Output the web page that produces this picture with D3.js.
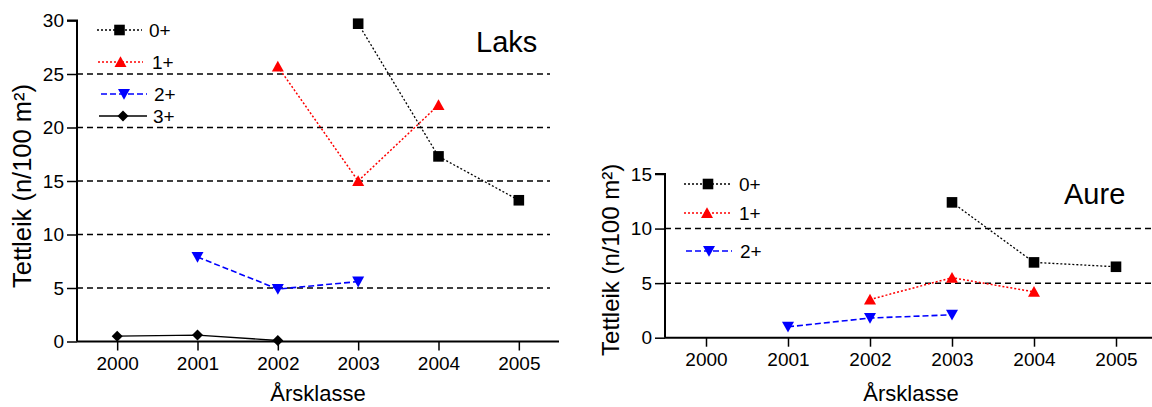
<!DOCTYPE html>
<html>
<head>
<meta charset="utf-8">
<script src="https://cdn.jsdelivr.net/npm/d3@7/dist/d3.min.js"></script>
<style>
  html, body { margin: 0; padding: 0; background: #fff; }
  svg { display: block; }
  text { font-family: "Liberation Sans", Arial, sans-serif; fill: #000; }
</style>
</head>
<body>
<svg id="chart" width="1152" height="407"></svg>
<script>
// Year classes on the x axis
const years = [2000, 2001, 2002, 2003, 2004, 2005];
const yearLabels = ["2000", "2001", "2002", "2003", "2004", "2005"];

// Laks (salmon) density per age group, n/100 m²
const laksYears0 = [2003, 2004, 2005];
const laks0 = [29.7, 17.3, 13.2];
const laksYears1 = [2002, 2003, 2004];
const laks1 = [25.7, 15.0, 22.1];
const laksYears2 = [2001, 2002, 2003];
const laks2 = [7.9, 4.9, 5.6];
const laksYears3 = [2000, 2001, 2002];
const laks3 = [0.5, 0.6, 0.1];

// Aure (trout) density per age group, n/100 m²
const aureYears0 = [2003, 2004, 2005];
const aure0 = [12.4, 6.9, 6.5];
const aureYears1 = [2002, 2003, 2004];
const aure1 = [3.5, 5.5, 4.2];
const aureYears2 = [2001, 2002, 2003];
const aure2 = [1.0, 1.8, 2.1];

// Axis ticks and labels
const laksTicks = [0, 5, 10, 15, 20, 25, 30];
const laksGrid = [5, 10, 15, 20, 25];
const aureTicks = [0, 5, 10, 15];
const aureGrid = [5, 10];
const groupLabels = ["0+", "1+", "2+", "3+"];
const yTitle = "Tettleik (n/100 m²)";
const xTitle = "Årsklasse";

// Visual style per age group
const styles = [
  { color: "#000", dash: "2,2", width: 1.3, marker: "square" },
  { color: "#ff0000", dash: "2,2", width: 1.5, marker: "triUp" },
  { color: "#0000ff", dash: "6,3", width: 1.6, marker: "triDown" },
  { color: "#000", dash: null, width: 1.4, marker: "diamond" }
];

function markerPath(type) {
  switch (type) {
    case "square": return "M-5.3,-5.3H5.3V5.3H-5.3Z";
    case "triUp": return "M0,-5.8L6,5L-6,5Z";
    case "triDown": return "M0,5.8L6,-5L-6,-5Z";
    case "diamond": return "M0,-5.5L5.5,0L0,5.5L-5.5,0Z";
  }
}

const svg = d3.select("#chart");

function drawPanel(cfg) {
  const g = svg.append("g");
  const x = d3.scaleLinear().domain([1999.5, 2005.5]).range([cfg.left, cfg.right]);
  const y = d3.scaleLinear().domain([0, cfg.ymax]).range([cfg.bottom, cfg.top]);

  // dashed reference lines
  g.selectAll(".grid").data(cfg.grid).enter().append("line")
    .attr("x1", cfg.left).attr("x2", cfg.gridEnd)
    .attr("y1", d => y(d)).attr("y2", d => y(d))
    .attr("stroke", "#000").attr("stroke-width", 1.5)
    .attr("stroke-dasharray", "6,4");

  // y axis
  const yAxis = d3.axisLeft(y).tickValues(cfg.ticks).tickSize(10).tickPadding(3)
    .tickFormat(d3.format("d"));
  const ya = g.append("g").attr("transform", `translate(${cfg.left},0)`).call(yAxis);
  ya.select(".domain").attr("stroke-width", 2).attr("d", `M-10,${y(cfg.ymax)}H0V${y(0)}`);
  ya.selectAll(".tick line").attr("stroke-width", 1.5);
  ya.selectAll("text").attr("font-size", 19).attr("font-family", "Liberation Sans, Arial, sans-serif");

  // x axis
  const xAxis = d3.axisBottom(x).tickValues(years).tickSize(9).tickPadding(6)
    .tickFormat((d, i) => yearLabels[i]);
  const xa = g.append("g").attr("transform", `translate(0,${cfg.bottom})`).call(xAxis);
  xa.select(".domain").attr("stroke-width", 2).attr("d", `M${cfg.left},0H${cfg.right}`);
  xa.selectAll(".tick line").attr("stroke-width", 1.5);
  xa.selectAll("text").attr("font-size", 19).attr("font-family", "Liberation Sans, Arial, sans-serif");

  // axis titles
  g.append("text")
    .attr("transform", `translate(${cfg.yTitleX},${(y(0) + y(cfg.ymax)) / 2 + cfg.yTitleShift}) rotate(-90)`)
    .attr("text-anchor", "middle").attr("font-size", cfg.yTitleSize).text(yTitle);
  g.append("text")
    .attr("x", (cfg.left + cfg.right) / 2).attr("y", cfg.xTitleY)
    .attr("text-anchor", "middle").attr("font-size", 22).text(xTitle);

  // species name
  g.append("text").attr("x", cfg.nameX).attr("y", cfg.nameY)
    .attr("font-size", 29).text(cfg.name);

  // series lines and markers
  const line = d3.line().x(d => x(d[0])).y(d => y(d[1]));
  cfg.series.forEach((s, i) => {
    const st = styles[i];
    const pts = s.years.map((yr, j) => [yr, s.values[j]]);
    g.append("path").datum(pts).attr("d", line)
      .attr("fill", "none").attr("stroke", st.color)
      .attr("stroke-width", st.width)
      .attr("stroke-dasharray", st.dash);
    g.selectAll(null).data(pts).enter().append("path")
      .attr("d", markerPath(st.marker))
      .attr("transform", d => `translate(${x(d[0])},${y(d[1])})`)
      .attr("fill", st.color);
  });

  // legend
  cfg.legend.forEach((L, i) => {
    const st = styles[i];
    g.append("line").attr("x1", L.x1).attr("x2", L.x2).attr("y1", L.y).attr("y2", L.y)
      .attr("stroke", st.color).attr("stroke-width", st.width)
      .attr("stroke-dasharray", st.dash);
    g.append("path").attr("d", markerPath(st.marker))
      .attr("transform", `translate(${(L.x1 + L.x2) / 2},${L.y})`)
      .attr("fill", st.color);
    g.append("text").attr("x", L.tx).attr("y", L.y + 7)
      .attr("font-size", 19).text(groupLabels[i]);
  });
}

drawPanel({
  name: "Laks", nameX: 476, nameY: 52,
  left: 77, right: 559, top: 20.5, bottom: 341.5, gridEnd: 550,
  ymax: 30, ticks: laksTicks, grid: laksGrid,
  yTitleX: 31, yTitleSize: 25.5, yTitleShift: 5, xTitleY: 401,
  series: [
    { years: laksYears0, values: laks0 },
    { years: laksYears1, values: laks1 },
    { years: laksYears2, values: laks2 },
    { years: laksYears3, values: laks3 }
  ],
  legend: [
    { x1: 97, x2: 142, y: 30, tx: 149 },
    { x1: 98, x2: 143, y: 62, tx: 152 },
    { x1: 101, x2: 147, y: 94, tx: 154 },
    { x1: 99, x2: 147, y: 116, tx: 153 }
  ]
});

drawPanel({
  name: "Aure", nameX: 1064, nameY: 204,
  left: 665, right: 1157, top: 174, bottom: 337.7, gridEnd: 1152,
  ymax: 15, ticks: aureTicks, grid: aureGrid,
  yTitleX: 619, yTitleSize: 24, yTitleShift: 4, xTitleY: 401,
  series: [
    { years: aureYears0, values: aure0 },
    { years: aureYears1, values: aure1 },
    { years: aureYears2, values: aure2 }
  ],
  legend: [
    { x1: 684, x2: 732, y: 184, tx: 739 },
    { x1: 684, x2: 730, y: 213, tx: 739 },
    { x1: 686, x2: 732, y: 251, tx: 740 }
  ]
});
</script>
</body>
</html>
